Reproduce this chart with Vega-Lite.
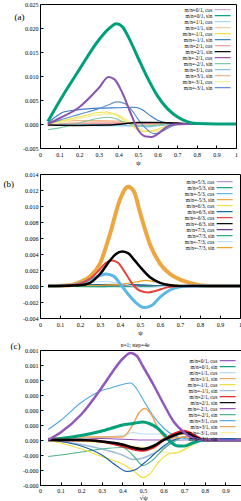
{
"$schema": "https://vega.github.io/schema/vega-lite/v6.json",
"padding": {"left": 2, "right": 0, "top": 0, "bottom": 0},
"columns": 1,
"spacing": 4,
"config": {
  "font": "Liberation Serif",
  "view": {"stroke": "black", "strokeWidth": 1},
  "axis": {"domain": false, "grid": false, "ticks": true, "tickSize": -3, "tickColor": "black", "labelFontSize": 6, "labelColor": "black", "labelFont": "Liberation Serif", "titleFont": "Liberation Serif", "titleFontWeight": "normal", "titleColor": "black", "labelFlush": false, "labelOverlap": false, "minExtent": 0},
  "title": {"font": "Liberation Serif", "fontWeight": "normal", "color": "black"},
  "legend": {"title": null, "orient": "top-right", "labelFontSize": 5.3, "labelFont": "Liberation Serif", "labelColor": "black", "symbolType": "M-5.3,0L5.3,0", "symbolSize": 9, "symbolStrokeWidth": 1.2, "labelAlign": "right", "labelOffset": -13, "rowPadding": -0.6, "padding": 0, "labelLimit": 45}
},
"resolve": {"scale": {"color": "independent", "x": "independent", "y": "independent"}, "legend": {"color": "independent"}},
"datasets": {
"a": [
{"s":"0/1, cos","x":0.04,"y":0},{"s":"0/1, cos","x":0.2,"y":0.0001},{"s":"0/1, cos","x":0.35,"y":0.0002},{"s":"0/1, cos","x":0.5,"y":0.0001},{"s":"0/1, cos","x":0.65,"y":0},{"s":"0/1, cos","x":1,"y":0},
{"s":"1/1, cos","x":0.04,"y":0},{"s":"1/1, cos","x":0.2,"y":-0.0002},{"s":"1/1, cos","x":0.35,"y":-0.0004},{"s":"1/1, cos","x":0.5,"y":-0.0004},{"s":"1/1, cos","x":0.6,"y":-0.0002},{"s":"1/1, cos","x":0.7,"y":0},{"s":"1/1, cos","x":1,"y":0},
{"s":"1/1, sin","x":0.04,"y":0.0001},{"s":"1/1, sin","x":0.2,"y":0.0003},{"s":"1/1, sin","x":0.3,"y":0.0005},{"s":"1/1, sin","x":0.4,"y":0.0004},{"s":"1/1, sin","x":0.5,"y":0},{"s":"1/1, sin","x":0.6,"y":-0.0003},{"s":"1/1, sin","x":0.7,"y":0},{"s":"1/1, sin","x":1,"y":0},
{"s":"2/1, cos","x":0.04,"y":0},{"s":"2/1, cos","x":0.3,"y":0.0001},{"s":"2/1, cos","x":0.45,"y":0.0002},{"s":"2/1, cos","x":0.55,"y":0.0002},{"s":"2/1, cos","x":0.7,"y":0.0001},{"s":"2/1, cos","x":0.8,"y":0},{"s":"2/1, cos","x":1,"y":0},
{"s":"3/1, cos","x":0.04,"y":0},{"s":"3/1, cos","x":0.2,"y":-0.0001},{"s":"3/1, cos","x":0.4,"y":-0.0002},{"s":"3/1, cos","x":0.5,"y":-0.0005},{"s":"3/1, cos","x":0.55,"y":-0.0006},{"s":"3/1, cos","x":0.62,"y":-0.0003},{"s":"3/1, cos","x":0.7,"y":0},{"s":"3/1, cos","x":1,"y":0},
{"s":"3/1, sin","x":0.04,"y":0.0003},{"s":"3/1, sin","x":0.1,"y":0.0006},{"s":"3/1, sin","x":0.2,"y":0.0007},{"s":"3/1, sin","x":0.3,"y":0.0007},{"s":"3/1, sin","x":0.4,"y":0.0006},{"s":"3/1, sin","x":0.45,"y":0.0002},{"s":"3/1, sin","x":0.5,"y":-0.0002},{"s":"3/1, sin","x":0.55,"y":-0.0002},{"s":"3/1, sin","x":0.6,"y":0},{"s":"3/1, sin","x":1,"y":0},
{"s":"-3/1, cos","x":0.04,"y":-0.0003},{"s":"-3/1, cos","x":0.1,"y":0.0003},{"s":"-3/1, cos","x":0.2,"y":0.0012},{"s":"-3/1, cos","x":0.3,"y":0.0019},{"s":"-3/1, cos","x":0.37,"y":0.0022},{"s":"-3/1, cos","x":0.42,"y":0.0015},{"s":"-3/1, cos","x":0.47,"y":0},{"s":"-3/1, cos","x":0.52,"y":-0.0012},{"s":"-3/1, cos","x":0.57,"y":-0.0016},{"s":"-3/1, cos","x":0.62,"y":-0.0012},{"s":"-3/1, cos","x":0.67,"y":-0.0004},{"s":"-3/1, cos","x":0.72,"y":0},{"s":"-3/1, cos","x":1,"y":0},
{"s":"-1/1, cos","x":0.04,"y":0},{"s":"-1/1, cos","x":0.1,"y":0.0006},{"s":"-1/1, cos","x":0.2,"y":0.0015},{"s":"-1/1, cos","x":0.3,"y":0.0024},{"s":"-1/1, cos","x":0.34,"y":0.0025},{"s":"-1/1, cos","x":0.39,"y":0.0018},{"s":"-1/1, cos","x":0.45,"y":0.0002},{"s":"-1/1, cos","x":0.5,"y":-0.0012},{"s":"-1/1, cos","x":0.53,"y":-0.0016},{"s":"-1/1, cos","x":0.58,"y":-0.0013},{"s":"-1/1, cos","x":0.65,"y":-0.0004},{"s":"-1/1, cos","x":0.7,"y":0},{"s":"-1/1, cos","x":1,"y":0},
{"s":"-2/1, sin","x":0.04,"y":-0.0012},{"s":"-2/1, sin","x":0.1,"y":-0.0008},{"s":"-2/1, sin","x":0.2,"y":0.0002},{"s":"-2/1, sin","x":0.3,"y":0.0012},{"s":"-2/1, sin","x":0.34,"y":0.0014},{"s":"-2/1, sin","x":0.38,"y":0.0012},{"s":"-2/1, sin","x":0.43,"y":0.0004},{"s":"-2/1, sin","x":0.48,"y":-0.0002},{"s":"-2/1, sin","x":0.55,"y":-0.0004},{"s":"-2/1, sin","x":0.6,"y":-0.0002},{"s":"-2/1, sin","x":0.65,"y":0},{"s":"-2/1, sin","x":1,"y":0},
{"s":"-1/1, sin","x":0.04,"y":0.0002},{"s":"-1/1, sin","x":0.08,"y":0.0015},{"s":"-1/1, sin","x":0.12,"y":0.0025},{"s":"-1/1, sin","x":0.2,"y":0.003},{"s":"-1/1, sin","x":0.3,"y":0.0033},{"s":"-1/1, sin","x":0.4,"y":0.0034},{"s":"-1/1, sin","x":0.48,"y":0.0035},{"s":"-1/1, sin","x":0.52,"y":0.003},{"s":"-1/1, sin","x":0.56,"y":0.0018},{"s":"-1/1, sin","x":0.6,"y":0.0008},{"s":"-1/1, sin","x":0.65,"y":0.0002},{"s":"-1/1, sin","x":0.7,"y":0},{"s":"-1/1, sin","x":1,"y":0},
{"s":"-3/1, sin","x":0.04,"y":0},{"s":"-3/1, sin","x":0.1,"y":0.0008},{"s":"-3/1, sin","x":0.2,"y":0.002},{"s":"-3/1, sin","x":0.3,"y":0.0032},{"s":"-3/1, sin","x":0.35,"y":0.004},{"s":"-3/1, sin","x":0.39,"y":0.0046},{"s":"-3/1, sin","x":0.43,"y":0.0043},{"s":"-3/1, sin","x":0.47,"y":0.0028},{"s":"-3/1, sin","x":0.5,"y":0.001},{"s":"-3/1, sin","x":0.55,"y":-0.0013},{"s":"-3/1, sin","x":0.58,"y":-0.002},{"s":"-3/1, sin","x":0.62,"y":-0.0016},{"s":"-3/1, sin","x":0.67,"y":-0.0005},{"s":"-3/1, sin","x":0.72,"y":0},{"s":"-3/1, sin","x":1,"y":0},
{"s":"2/1, sin","x":0.04,"y":-0.0002},{"s":"2/1, sin","x":0.2,"y":-0.0003},{"s":"2/1, sin","x":0.35,"y":-0.0002},{"s":"2/1, sin","x":0.42,"y":0},{"s":"2/1, sin","x":0.5,"y":0.0003},{"s":"2/1, sin","x":0.6,"y":0.0003},{"s":"2/1, sin","x":0.7,"y":0.0002},{"s":"2/1, sin","x":0.78,"y":0},{"s":"2/1, sin","x":1,"y":0},
{"s":"-2/1, cos","x":0.04,"y":0},{"s":"-2/1, cos","x":0.1,"y":0.0012},{"s":"-2/1, cos","x":0.2,"y":0.0035},{"s":"-2/1, cos","x":0.3,"y":0.0075},{"s":"-2/1, cos","x":0.35,"y":0.0098},{"s":"-2/1, cos","x":0.38,"y":0.0093},{"s":"-2/1, cos","x":0.42,"y":0.0065},{"s":"-2/1, cos","x":0.46,"y":0.0025},{"s":"-2/1, cos","x":0.5,"y":-0.0012},{"s":"-2/1, cos","x":0.54,"y":-0.0026},{"s":"-2/1, cos","x":0.57,"y":-0.0027},{"s":"-2/1, cos","x":0.6,"y":-0.0021},{"s":"-2/1, cos","x":0.64,"y":-0.0008},{"s":"-2/1, cos","x":0.68,"y":-0.0001},{"s":"-2/1, cos","x":0.75,"y":0},{"s":"-2/1, cos","x":1,"y":0},
{"s":"0/1, sin","x":0.04,"y":0.0005},{"s":"0/1, sin","x":0.1,"y":0.0048},{"s":"0/1, sin","x":0.2,"y":0.0113},{"s":"0/1, sin","x":0.3,"y":0.0175},{"s":"0/1, sin","x":0.35,"y":0.0198},{"s":"0/1, sin","x":0.39,"y":0.0209},{"s":"0/1, sin","x":0.42,"y":0.0203},{"s":"0/1, sin","x":0.45,"y":0.0182},{"s":"0/1, sin","x":0.5,"y":0.0138},{"s":"0/1, sin","x":0.55,"y":0.0095},{"s":"0/1, sin","x":0.6,"y":0.0058},{"s":"0/1, sin","x":0.65,"y":0.0032},{"s":"0/1, sin","x":0.7,"y":0.0015},{"s":"0/1, sin","x":0.75,"y":0.0005},{"s":"0/1, sin","x":0.8,"y":0.0001},{"s":"0/1, sin","x":0.9,"y":0},{"s":"0/1, sin","x":1,"y":0}
],
"b": [
{"s":"5/3, cos","x":0.04,"y":0},{"s":"5/3, cos","x":0.3,"y":0.0001},{"s":"5/3, cos","x":0.5,"y":0},{"s":"5/3, cos","x":1,"y":0},
{"s":"5/3, sin","x":0.04,"y":0},{"s":"5/3, sin","x":0.3,"y":-0.0001},{"s":"5/3, sin","x":0.5,"y":0.0001},{"s":"5/3, sin","x":0.7,"y":0},{"s":"5/3, sin","x":1,"y":0},
{"s":"6/3, cos","x":0.04,"y":0},{"s":"6/3, cos","x":0.35,"y":0.0001},{"s":"6/3, cos","x":0.55,"y":0},{"s":"6/3, cos","x":1,"y":0},
{"s":"6/3, sin","x":0.04,"y":0},{"s":"6/3, sin","x":0.4,"y":0.0002},{"s":"6/3, sin","x":0.55,"y":0.0001},{"s":"6/3, sin","x":0.7,"y":0},{"s":"6/3, sin","x":1,"y":0},
{"s":"7/3, cos","x":0.04,"y":0},{"s":"7/3, cos","x":0.5,"y":0},{"s":"7/3, cos","x":1,"y":0},
{"s":"7/3, sin","x":0.04,"y":0},{"s":"7/3, sin","x":0.45,"y":-0.0001},{"s":"7/3, sin","x":0.6,"y":0},{"s":"7/3, sin","x":1,"y":0},
{"s":"-7/3, cos","x":0.04,"y":0},{"s":"-7/3, cos","x":0.2,"y":0.0002},{"s":"-7/3, cos","x":0.28,"y":0.0005},{"s":"-7/3, cos","x":0.33,"y":0.0006},{"s":"-7/3, cos","x":0.38,"y":0.0004},{"s":"-7/3, cos","x":0.45,"y":0.0001},{"s":"-7/3, cos","x":0.5,"y":-0.0002},{"s":"-7/3, cos","x":0.55,"y":-0.0002},{"s":"-7/3, cos","x":0.65,"y":0},{"s":"-7/3, cos","x":1,"y":0},
{"s":"-7/3, sin","x":0.04,"y":0},{"s":"-7/3, sin","x":0.3,"y":0.0001},{"s":"-7/3, sin","x":0.4,"y":0.0002},{"s":"-7/3, sin","x":0.48,"y":0.0005},{"s":"-7/3, sin","x":0.53,"y":0.0007},{"s":"-7/3, sin","x":0.58,"y":0.0005},{"s":"-7/3, sin","x":0.65,"y":0.0002},{"s":"-7/3, sin","x":0.75,"y":0},{"s":"-7/3, sin","x":1,"y":0},
{"s":"-5/3, sin","x":0.04,"y":0},{"s":"-5/3, sin","x":0.15,"y":0.0001},{"s":"-5/3, sin","x":0.2,"y":0.0005},{"s":"-5/3, sin","x":0.25,"y":0.0012},{"s":"-5/3, sin","x":0.3,"y":0.0028},{"s":"-5/3, sin","x":0.35,"y":0.0065},{"s":"-5/3, sin","x":0.4,"y":0.0108},{"s":"-5/3, sin","x":0.44,"y":0.0124},{"s":"-5/3, sin","x":0.47,"y":0.0118},{"s":"-5/3, sin","x":0.5,"y":0.0092},{"s":"-5/3, sin","x":0.55,"y":0.0052},{"s":"-5/3, sin","x":0.6,"y":0.0028},{"s":"-5/3, sin","x":0.65,"y":0.0015},{"s":"-5/3, sin","x":0.7,"y":0.0008},{"s":"-5/3, sin","x":0.75,"y":0.0004},{"s":"-5/3, sin","x":0.8,"y":0.0001},{"s":"-5/3, sin","x":0.85,"y":0},{"s":"-5/3, sin","x":1,"y":0},
{"s":"-5/3, cos","x":0.04,"y":0},{"s":"-5/3, cos","x":0.15,"y":0.0001},{"s":"-5/3, cos","x":0.2,"y":0.0003},{"s":"-5/3, cos","x":0.25,"y":0.0008},{"s":"-5/3, cos","x":0.3,"y":0.0013},{"s":"-5/3, cos","x":0.33,"y":0.0015},{"s":"-5/3, cos","x":0.37,"y":0.0012},{"s":"-5/3, cos","x":0.4,"y":0.0003},{"s":"-5/3, cos","x":0.44,"y":-0.001},{"s":"-5/3, cos","x":0.48,"y":-0.0021},{"s":"-5/3, cos","x":0.52,"y":-0.0027},{"s":"-5/3, cos","x":0.56,"y":-0.0024},{"s":"-5/3, cos","x":0.6,"y":-0.0014},{"s":"-5/3, cos","x":0.65,"y":-0.0005},{"s":"-5/3, cos","x":0.7,"y":-0.0001},{"s":"-5/3, cos","x":0.75,"y":0},{"s":"-5/3, cos","x":1,"y":0},
{"s":"-6/3, cos","x":0.04,"y":0},{"s":"-6/3, cos","x":0.15,"y":0.0001},{"s":"-6/3, cos","x":0.2,"y":0.0003},{"s":"-6/3, cos","x":0.25,"y":0.0009},{"s":"-6/3, cos","x":0.3,"y":0.0021},{"s":"-6/3, cos","x":0.33,"y":0.0029},{"s":"-6/3, cos","x":0.36,"y":0.0032},{"s":"-6/3, cos","x":0.39,"y":0.0029},{"s":"-6/3, cos","x":0.43,"y":0.0015},{"s":"-6/3, cos","x":0.47,"y":0},{"s":"-6/3, cos","x":0.5,"y":-0.0006},{"s":"-6/3, cos","x":0.54,"y":-0.0008},{"s":"-6/3, cos","x":0.58,"y":-0.0006},{"s":"-6/3, cos","x":0.63,"y":-0.0002},{"s":"-6/3, cos","x":0.7,"y":0},{"s":"-6/3, cos","x":1,"y":0},
{"s":"-6/3, sin","x":0.04,"y":0},{"s":"-6/3, sin","x":0.2,"y":0.0001},{"s":"-6/3, sin","x":0.25,"y":0.0004},{"s":"-6/3, sin","x":0.3,"y":0.0015},{"s":"-6/3, sin","x":0.35,"y":0.0032},{"s":"-6/3, sin","x":0.38,"y":0.004},{"s":"-6/3, sin","x":0.41,"y":0.0043},{"s":"-6/3, sin","x":0.44,"y":0.0041},{"s":"-6/3, sin","x":0.47,"y":0.0033},{"s":"-6/3, sin","x":0.5,"y":0.0024},{"s":"-6/3, sin","x":0.55,"y":0.0011},{"s":"-6/3, sin","x":0.6,"y":0.0004},{"s":"-6/3, sin","x":0.65,"y":0.0001},{"s":"-6/3, sin","x":0.7,"y":0},{"s":"-6/3, sin","x":1,"y":0}
],
"c": [
{"s":"-2/1, cos","x":0.04,"y":0},{"s":"-2/1, cos","x":0.3,"y":0.00001},{"s":"-2/1, cos","x":0.5,"y":0},{"s":"-2/1, cos","x":1,"y":0},
{"s":"1/1, cos","x":0.04,"y":0},{"s":"1/1, cos","x":0.2,"y":0.00001},{"s":"1/1, cos","x":0.3,"y":0.00002},{"s":"1/1, cos","x":0.4,"y":0.00003},{"s":"1/1, cos","x":0.45,"y":0.00005},{"s":"1/1, cos","x":0.5,"y":0.00004},{"s":"1/1, cos","x":0.55,"y":0.00004},{"s":"1/1, cos","x":0.6,"y":0.00004},{"s":"1/1, cos","x":0.65,"y":0.00002},{"s":"1/1, cos","x":0.7,"y":0},{"s":"1/1, cos","x":1,"y":0},
{"s":"-3/1, cos","x":0.04,"y":0},{"s":"-3/1, cos","x":0.3,"y":-0.00002},{"s":"-3/1, cos","x":0.5,"y":-0.00005},{"s":"-3/1, cos","x":0.6,"y":-0.00008},{"s":"-3/1, cos","x":0.65,"y":-0.00009},{"s":"-3/1, cos","x":0.7,"y":-0.00006},{"s":"-3/1, cos","x":0.75,"y":-0.00002},{"s":"-3/1, cos","x":0.8,"y":0},{"s":"-3/1, cos","x":1,"y":0},
{"s":"-1/1, sin","x":0.04,"y":0},{"s":"-1/1, sin","x":0.2,"y":-0.00003},{"s":"-1/1, sin","x":0.3,"y":-0.00006},{"s":"-1/1, sin","x":0.4,"y":-0.0001},{"s":"-1/1, sin","x":0.45,"y":-0.00013},{"s":"-1/1, sin","x":0.5,"y":-0.00012},{"s":"-1/1, sin","x":0.55,"y":-0.00009},{"s":"-1/1, sin","x":0.6,"y":-0.00005},{"s":"-1/1, sin","x":0.65,"y":-0.00001},{"s":"-1/1, sin","x":0.7,"y":0.00002},{"s":"-1/1, sin","x":0.75,"y":0},{"s":"-1/1, sin","x":1,"y":0},
{"s":"-2/1, sin","x":0.04,"y":-0.00011},{"s":"-2/1, sin","x":0.1,"y":-0.0001},{"s":"-2/1, sin","x":0.2,"y":-0.00008},{"s":"-2/1, sin","x":0.3,"y":-0.00006},{"s":"-2/1, sin","x":0.4,"y":-0.00005},{"s":"-2/1, sin","x":0.45,"y":-0.0001},{"s":"-2/1, sin","x":0.5,"y":-0.00017},{"s":"-2/1, sin","x":0.55,"y":-0.00013},{"s":"-2/1, sin","x":0.6,"y":-0.00006},{"s":"-2/1, sin","x":0.65,"y":-0.00001},{"s":"-2/1, sin","x":0.7,"y":0.00002},{"s":"-2/1, sin","x":0.75,"y":0.00001},{"s":"-2/1, sin","x":0.8,"y":0},{"s":"-2/1, sin","x":1,"y":0},
{"s":"-1/1, cos","x":0.04,"y":0},{"s":"-1/1, cos","x":0.1,"y":-0.00002},{"s":"-1/1, cos","x":0.2,"y":-0.00006},{"s":"-1/1, cos","x":0.3,"y":-0.00011},{"s":"-1/1, cos","x":0.4,"y":-0.00016},{"s":"-1/1, cos","x":0.45,"y":-0.0002},{"s":"-1/1, cos","x":0.5,"y":-0.00025},{"s":"-1/1, cos","x":0.53,"y":-0.00023},{"s":"-1/1, cos","x":0.58,"y":-0.00014},{"s":"-1/1, cos","x":0.63,"y":-0.00009},{"s":"-1/1, cos","x":0.68,"y":-0.00008},{"s":"-1/1, cos","x":0.73,"y":-0.00004},{"s":"-1/1, cos","x":0.8,"y":0},{"s":"-1/1, cos","x":1,"y":0},
{"s":"-3/1, sin","x":0.04,"y":0},{"s":"-3/1, sin","x":0.1,"y":-0.00001},{"s":"-3/1, sin","x":0.2,"y":-0.00004},{"s":"-3/1, sin","x":0.3,"y":-0.0001},{"s":"-3/1, sin","x":0.38,"y":-0.00018},{"s":"-3/1, sin","x":0.42,"y":-0.00021},{"s":"-3/1, sin","x":0.46,"y":-0.0002},{"s":"-3/1, sin","x":0.5,"y":-0.00016},{"s":"-3/1, sin","x":0.55,"y":-0.0001},{"s":"-3/1, sin","x":0.6,"y":-0.00004},{"s":"-3/1, sin","x":0.65,"y":0},{"s":"-3/1, sin","x":0.7,"y":0.00002},{"s":"-3/1, sin","x":0.75,"y":0.00001},{"s":"-3/1, sin","x":0.8,"y":0},{"s":"-3/1, sin","x":1,"y":0},
{"s":"3/1, cos","x":0.04,"y":0.00007},{"s":"3/1, cos","x":0.1,"y":0.00013},{"s":"3/1, cos","x":0.2,"y":0.00025},{"s":"3/1, cos","x":0.3,"y":0.00033},{"s":"3/1, cos","x":0.35,"y":0.00035},{"s":"3/1, cos","x":0.4,"y":0.00037},{"s":"3/1, cos","x":0.44,"y":0.00038},{"s":"3/1, cos","x":0.47,"y":0.00034},{"s":"3/1, cos","x":0.5,"y":0.00027},{"s":"3/1, cos","x":0.55,"y":0.00016},{"s":"3/1, cos","x":0.6,"y":0.00008},{"s":"3/1, cos","x":0.65,"y":0.00003},{"s":"3/1, cos","x":0.7,"y":0.00001},{"s":"3/1, cos","x":0.8,"y":0},{"s":"3/1, cos","x":1,"y":0},
{"s":"1/1, sin","x":0.04,"y":0.00001},{"s":"1/1, sin","x":0.2,"y":0.00002},{"s":"1/1, sin","x":0.3,"y":0.00002},{"s":"1/1, sin","x":0.4,"y":0.00002},{"s":"1/1, sin","x":0.45,"y":0.0001},{"s":"1/1, sin","x":0.48,"y":0.00018},{"s":"1/1, sin","x":0.51,"y":0.00021},{"s":"1/1, sin","x":0.54,"y":0.00017},{"s":"1/1, sin","x":0.58,"y":0.00006},{"s":"1/1, sin","x":0.62,"y":0.00001},{"s":"1/1, sin","x":0.7,"y":0.00002},{"s":"1/1, sin","x":0.75,"y":0.00001},{"s":"1/1, sin","x":0.8,"y":0},{"s":"1/1, sin","x":1,"y":0},
{"s":"3/1, sin","x":0.04,"y":0},{"s":"3/1, sin","x":0.3,"y":-0.00001},{"s":"3/1, sin","x":0.4,"y":-0.00003},{"s":"3/1, sin","x":0.5,"y":-0.00006},{"s":"3/1, sin","x":0.55,"y":-0.00004},{"s":"3/1, sin","x":0.6,"y":0.00001},{"s":"3/1, sin","x":0.65,"y":0.00003},{"s":"3/1, sin","x":0.7,"y":0.00004},{"s":"3/1, sin","x":0.75,"y":0.00001},{"s":"3/1, sin","x":0.8,"y":0},{"s":"3/1, sin","x":1,"y":0},
{"s":"0/1, sin","x":0.04,"y":0},{"s":"0/1, sin","x":0.1,"y":0.00001},{"s":"0/1, sin","x":0.2,"y":0.00003},{"s":"0/1, sin","x":0.3,"y":0.00006},{"s":"0/1, sin","x":0.35,"y":0.00008},{"s":"0/1, sin","x":0.4,"y":0.0001},{"s":"0/1, sin","x":0.45,"y":0.00011},{"s":"0/1, sin","x":0.5,"y":0.00012},{"s":"0/1, sin","x":0.53,"y":0.00011},{"s":"0/1, sin","x":0.57,"y":0.00008},{"s":"0/1, sin","x":0.6,"y":0.00004},{"s":"0/1, sin","x":0.64,"y":-0.00002},{"s":"0/1, sin","x":0.67,"y":-0.00004},{"s":"0/1, sin","x":0.7,"y":-0.00004},{"s":"0/1, sin","x":0.74,"y":-0.00002},{"s":"0/1, sin","x":0.8,"y":0},{"s":"0/1, sin","x":1,"y":0},
{"s":"2/1, cos","x":0.04,"y":0},{"s":"2/1, cos","x":0.2,"y":0},{"s":"2/1, cos","x":0.3,"y":-0.00001},{"s":"2/1, cos","x":0.4,"y":-0.00004},{"s":"2/1, cos","x":0.45,"y":-0.00006},{"s":"2/1, cos","x":0.5,"y":-0.00007},{"s":"2/1, cos","x":0.55,"y":-0.00005},{"s":"2/1, cos","x":0.6,"y":0},{"s":"2/1, cos","x":0.65,"y":0.00004},{"s":"2/1, cos","x":0.7,"y":0.00006},{"s":"2/1, cos","x":0.75,"y":0.00003},{"s":"2/1, cos","x":0.8,"y":0},{"s":"2/1, cos","x":1,"y":0},
{"s":"2/1, sin","x":0.04,"y":0},{"s":"2/1, sin","x":0.2,"y":0},{"s":"2/1, sin","x":0.3,"y":-0.00001},{"s":"2/1, sin","x":0.4,"y":-0.00003},{"s":"2/1, sin","x":0.45,"y":-0.00005},{"s":"2/1, sin","x":0.5,"y":-0.00006},{"s":"2/1, sin","x":0.55,"y":-0.00004},{"s":"2/1, sin","x":0.6,"y":0},{"s":"2/1, sin","x":0.65,"y":0.00003},{"s":"2/1, sin","x":0.7,"y":0.00005},{"s":"2/1, sin","x":0.75,"y":0.00002},{"s":"2/1, sin","x":0.8,"y":0},{"s":"2/1, sin","x":1,"y":0},
{"s":"0/1, cos","x":0.04,"y":0},{"s":"0/1, cos","x":0.1,"y":0.00005},{"s":"0/1, cos","x":0.2,"y":0.00017},{"s":"0/1, cos","x":0.3,"y":0.00035},{"s":"0/1, cos","x":0.35,"y":0.00045},{"s":"0/1, cos","x":0.4,"y":0.00054},{"s":"0/1, cos","x":0.44,"y":0.00058},{"s":"0/1, cos","x":0.47,"y":0.00056},{"s":"0/1, cos","x":0.5,"y":0.00049},{"s":"0/1, cos","x":0.55,"y":0.00037},{"s":"0/1, cos","x":0.6,"y":0.00024},{"s":"0/1, cos","x":0.65,"y":0.00012},{"s":"0/1, cos","x":0.7,"y":0.00005},{"s":"0/1, cos","x":0.75,"y":0.00001},{"s":"0/1, cos","x":0.8,"y":0},{"s":"0/1, cos","x":1,"y":0}
]
},
"concat": [
{"columns": 1, "resolve": {"scale": {"color": "independent"}, "legend": {"color": "independent"}}, "concat": [
 {
  "width": 196, "height": 144,
  "data": {"name": "a"},
  "mark": {"type": "line", "interpolate": "monotone", "clip": true},
  "encoding": {
   "x": {"field": "x", "type": "quantitative", "scale": {"domain": [0, 1]}, "axis": {"title": "ψ", "titleFontSize": 7, "titlePadding": 1, "values": [0,0.1,0.2,0.3,0.4,0.5,0.6,0.7,0.8,0.9,1], "format": ".1~f", "labelPadding": 6}},
   "y": {"field": "y", "type": "quantitative", "scale": {"domain": [-0.005, 0.025]}, "axis": {"title": "(a)", "titleFontSize": 9, "titleAngle": 0, "titleAlign": "left", "titleBaseline": "middle", "titleX": -26, "titleY": 12, "values": [-0.005,0,0.005,0.01,0.015,0.02,0.025], "labelExpr": "datum.value < 0 ? '-' + format(-datum.value, '.3f') : format(datum.value, '.3f')", "labelPadding": 5}},
   "color": {"field": "s", "type": "nominal", "scale": {"domain": ["0/1, cos","0/1, sin","1/1, cos","1/1, sin","-1/1, cos","-1/1, sin","2/1, cos","2/1, sin","-2/1, cos","-2/1, sin","3/1, cos","3/1, sin","-3/1, cos","-3/1, sin"], "range": ["#c6acdc","#00a07a","#a5d6f3","#f6cca4","#efe243","#3b7cc4","#f2a0a0","#000000","#8a54b0","#7cc6a6","#7ec3ee","#f3b58a","#f6eda0","#5b8ed2"]}, "legend": {"labelExpr": "'m/n=' + datum.label", "offset": 3, "symbolStrokeWidth": 1.2}},
   "strokeWidth": {"condition": [{"test": "datum.s === '0/1, sin'", "value": 3}, {"test": "datum.s === '-2/1, cos'", "value": 2}, {"test": "datum.s === '0/1, cos' || datum.s === '2/1, cos' || datum.s === '2/1, sin' || datum.s === '-3/1, cos'", "value": 1.5}], "value": 1.1}
  }
 }
]},
{"columns": 1, "resolve": {"scale": {"color": "independent"}, "legend": {"color": "independent"}}, "concat": [
 {
  "width": 200, "height": 144,
  "data": {"name": "b"},
  "mark": {"type": "line", "interpolate": "monotone", "clip": true},
  "encoding": {
   "x": {"field": "x", "type": "quantitative", "scale": {"domain": [0, 1]}, "axis": {"title": "ψ", "titleFontSize": 7, "titlePadding": 1, "values": [0,0.1,0.2,0.3,0.4,0.5,0.6,0.7,0.8,0.9,1], "format": ".1~f", "labelPadding": 6}},
   "y": {"field": "y", "type": "quantitative", "scale": {"domain": [-0.004, 0.014]}, "axis": {"title": "(b)", "titleFontSize": 9, "titleAngle": 0, "titleAlign": "left", "titleBaseline": "middle", "titleX": -37, "titleY": 9, "values": [-0.004,-0.002,0,0.002,0.004,0.006,0.008,0.01,0.012,0.014], "labelExpr": "datum.value < 0 ? '-' + format(-datum.value, '.3f') : format(datum.value, '.3f')", "labelPadding": 5}},
   "color": {"field": "s", "type": "nominal", "scale": {"domain": ["5/3, cos","5/3, sin","-5/3, cos","-5/3, sin","6/3, cos","6/3, sin","-6/3, cos","-6/3, sin","7/3, cos","7/3, sin","-7/3, cos","-7/3, sin"], "range": ["#b592d6","#1a9e78","#5cb6e8","#eda640","#efe245","#0b64a3","#e8403a","#000000","#6b2f98","#2aa77f","#bfe1f6","#e69f1a"]}, "legend": {"labelExpr": "'m/n=' + datum.label", "offset": 5, "symbolStrokeWidth": 1.2}},
   "strokeWidth": {"condition": [{"test": "datum.s === '-5/3, sin'", "value": 4}, {"test": "datum.s === '-5/3, cos'", "value": 3}, {"test": "datum.s === '-6/3, sin'", "value": 2.5}, {"test": "datum.s === '-6/3, cos'", "value": 2}], "value": 1.1}
  }
 }
]},
{"columns": 1, "resolve": {"scale": {"color": "independent"}, "legend": {"color": "independent"}}, "concat": [
 {
  "width": 206, "height": 135,
  "title": {"text": "n=1; step=4e", "fontSize": 5.5, "offset": 2, "frame": "group", "dy": 9, "dx": -8},
  "data": {"name": "c"},
  "mark": {"type": "line", "interpolate": "monotone", "clip": true},
  "encoding": {
   "x": {"field": "x", "type": "quantitative", "scale": {"domain": [0, 1]}, "axis": {"title": "√ψ", "titleFontSize": 7, "titlePadding": 0, "values": [0,0.1,0.2,0.3,0.4,0.5,0.6,0.7,0.8,0.9,1], "format": ".1~f", "labelPadding": 5}},
   "y": {"field": "y", "type": "quantitative", "scale": {"domain": [-0.0003, 0.0006]}, "axis": {"title": "(c)", "titleFontSize": 9, "titleAngle": 0, "titleAlign": "left", "titleBaseline": "middle", "titleX": -30, "titleY": -5, "values": [-0.0003,-0.0002,-0.0001,0,0.0001,0.0002,0.0003,0.0004,0.0005,0.0006], "labelExpr": "datum.value < 0 ? '-' + format(-datum.value, '.3f') : format(datum.value, '.3f')", "labelPadding": 5}},
   "color": {"field": "s", "type": "nominal", "scale": {"domain": ["0/1, cos","0/1, sin","1/1, cos","1/1, sin","-1/1, cos","-1/1, sin","2/1, cos","2/1, sin","-2/1, cos","-2/1, sin","3/1, cos","3/1, sin","-3/1, cos","-3/1, sin"], "range": ["#9057bf","#00a07a","#b7dbf3","#f0a45c","#f0df3a","#a2bbd9","#e3231b","#000000","#9152b6","#4db08c","#4ea8e2","#f0a050","#f5eea0","#1762a4"]}, "legend": {"labelExpr": "'m/n=' + datum.label", "offset": 8, "symbolStrokeWidth": 1.2}},
   "strokeWidth": {"condition": [{"test": "datum.s === '0/1, sin'", "value": 3}, {"test": "datum.s === '0/1, cos' || datum.s === '2/1, cos' || datum.s === '2/1, sin'", "value": 2.5}, {"test": "datum.s === '1/1, sin' || datum.s === '-1/1, sin' || datum.s === '3/1, sin'", "value": 1.5}], "value": 1.1}
  }
 }
]}
]
}
